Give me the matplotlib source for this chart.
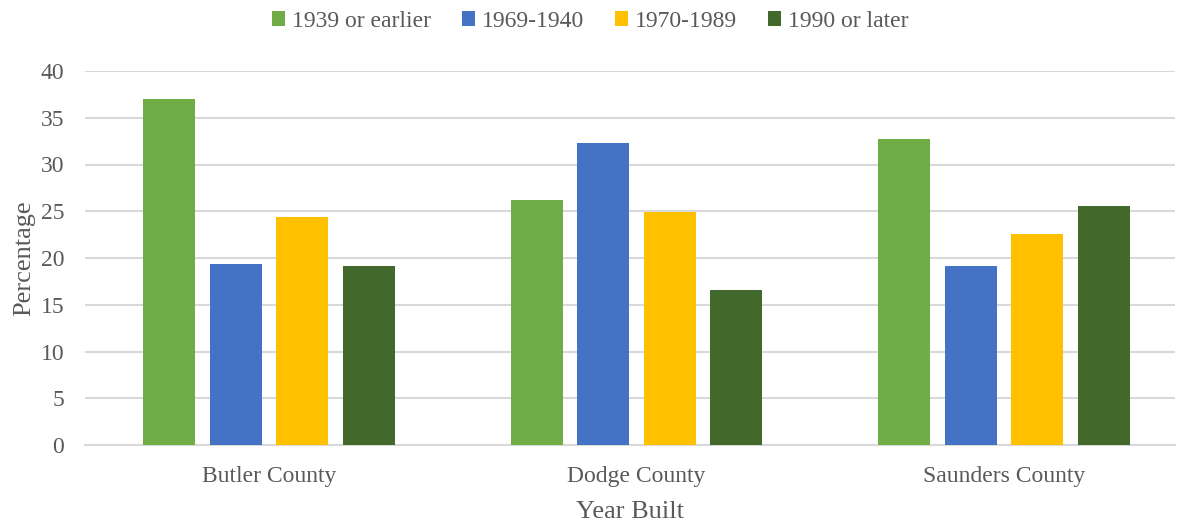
import numpy as np
import matplotlib.pyplot as plt

# Data
counties = ['Butler County', 'Dodge County', 'Saunders County']
series_names = ['1939 or earlier', '1969-1940', '1970-1989', '1990 or later']
pre_1939 = [37.0, 26.2, 32.7]
from_1940 = [19.4, 32.3, 19.1]
from_1970 = [24.4, 24.9, 22.6]
post_1990 = [19.1, 16.6, 25.6]
colors = ['#70ad47', '#4472c4', '#ffc000', '#43682b']

plt.rcParams['font.family'] = ['Liberation Serif', 'DejaVu Serif']
text_color = '#595959'

fig = plt.figure(figsize=(11.8, 5.23), dpi=100)
ax = fig.add_axes([85 / 1180, 1 - 445 / 523, 1090 / 1180, 374 / 523])

x = np.arange(len(counties))
width = 0.1415
step = 0.181
all_series = [pre_1939, from_1940, from_1970, post_1990]
for i, (vals, name) in enumerate(zip(all_series, series_names)):
    ax.bar(x + (i - 1.5) * step, vals, width, color=colors[i], label=name, zorder=3)

ax.set_xlim(-0.5007, 2.465)
ax.set_ylim(0, 40)
ax.set_yticks(range(0, 41, 5))
ax.set_xticks(x)
ax.set_xticklabels(counties)
ax.grid(axis='y', color='#d9d9d9', linewidth=1.5, zorder=0)
for s in ['top', 'right', 'left']:
    ax.spines[s].set_visible(False)
ax.spines['bottom'].set_color('#d9d9d9')
ax.spines['bottom'].set_linewidth(1.5)
ax.tick_params(axis='both', length=0, labelsize=17, colors=text_color)
ax.tick_params(axis='x', pad=15)
ax.tick_params(axis='y', pad=15)
ax.set_xlabel('Year Built', fontsize=19, color=text_color, labelpad=10)
ax.set_ylabel('Percentage', fontsize=19, color=text_color, labelpad=4)

fig.legend(loc='upper center', bbox_to_anchor=(0.5, 1.02), ncol=4, frameon=False,
           fontsize=17, labelcolor=text_color, handlelength=0.55, handleheight=0.55,
           handletextpad=0.3, columnspacing=1.3)

fig.savefig('out.png', dpi=100)
